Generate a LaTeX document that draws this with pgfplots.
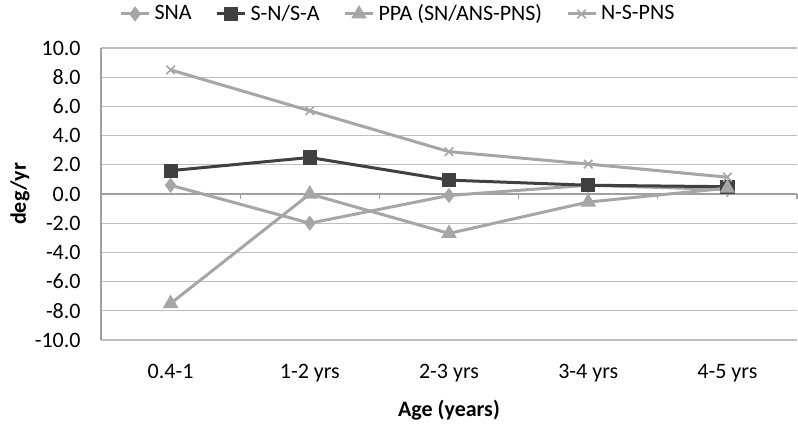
\documentclass[border=0pt]{standalone}
\usepackage{fontspec}
\setmainfont{Carlito}
\usepackage{pgfplots}
\pgfplotsset{compat=1.18}
\definecolor{lgray}{HTML}{A6A6A6}
\definecolor{dgray}{HTML}{404040}
\definecolor{grid}{HTML}{A0A0A0}
\begin{document}
\begin{tikzpicture}[font=\fontsize{11bp}{13bp}\selectfont]
\begin{axis}[
  scale only axis, width=348bp, height=146bp,
  xmin=-0.5, xmax=4.5, ymin=-10, ymax=10,
  axis x line*=bottom, axis y line*=left,
  axis line style={draw=none},
  ytick={-10,-8,...,10}, ymajorgrids=true, xmajorgrids=false,
  grid style={grid, line width=0.6bp},
  xtick={0,1,2,3,4},
  xticklabels={0.4-1,1-2 yrs,2-3 yrs,3-4 yrs,4-5 yrs},
  major tick length=0pt,
  /pgf/number format/assume math mode=true,
  yticklabel={\pgfmathprintnumber[fixed,fixed zerofill,precision=1]{\tick}},
  yticklabel style={inner sep=0pt, anchor=east, xshift=-10bp},
  xticklabel style={inner sep=0pt, anchor=north, yshift=-12bp},
  xlabel={\textbf{Age (years)}},
  ylabel={\textbf{deg/yr}},
  xlabel style={at={(axis description cs:0.5,0)}, anchor=center, yshift=-35bp},
  ylabel style={at={(axis description cs:0,0.5)}, anchor=center, yshift=40.5bp},
  clip=false,
  legend style={at={(axis description cs:0.5,1)}, anchor=center, xshift=-25bp, yshift=17bp,
    draw=none, legend columns=-1, inner sep=0pt,
    /tikz/every even column/.append style={column sep=10bp}},
  legend image code/.code={\draw[#1] (0bp,0bp) -- (14bp,0bp); \draw[#1, mark repeat=2, mark phase=2] plot coordinates {(0bp,0bp) (7bp,0bp) (14bp,0bp)};},
]
\draw[grid, line width=0.6bp] (axis cs:-0.5,-10) -- (axis cs:-0.5,10);
\draw[grid, line width=0.6bp] (axis cs:-0.5,0) -- (axis cs:4.5,0);
\pgfplotsinvokeforeach{-0.5,0.5,1.5,2.5,3.5,4.5}{
  \draw[grid, line width=0.6bp] (axis cs:#1,0) -- (axis cs:#1,-0.35);
}
\addplot[color=lgray, line width=1.5bp, mark=diamond*, mark size=2.6bp, mark options={solid}]
  coordinates {(0,0.6) (1,-2.0) (2,-0.1) (3,0.6) (4,0.3)};
\addlegendentry{SNA}
\addplot[color=dgray, line width=1.5bp, mark=square*, mark size=2.8bp, mark options={solid}]
  coordinates {(0,1.6) (1,2.5) (2,0.95) (3,0.6) (4,0.5)};
\addlegendentry{S-N/S-A}
\addplot[color=lgray, line width=1.5bp, mark=triangle*, mark size=3bp, mark options={solid}]
  coordinates {(0,-7.5) (1,0.0) (2,-2.7) (3,-0.55) (4,0.4)};
\addlegendentry{PPA (SN/ANS-PNS)}
\addplot[color=lgray, line width=1.5bp, mark=x, mark size=3bp, mark options={solid, line width=0.8bp}]
  coordinates {(0,8.5) (1,5.7) (2,2.9) (3,2.05) (4,1.15)};
\addlegendentry{N-S-PNS}
\end{axis}
\pgfresetboundingbox
\path[use as bounding box] ([xshift=-50.5bp, yshift=-42.5bp]current axis.south west) rectangle ([xshift=0.5bp, yshift=24bp]current axis.north east);
\end{tikzpicture}
\end{document}
